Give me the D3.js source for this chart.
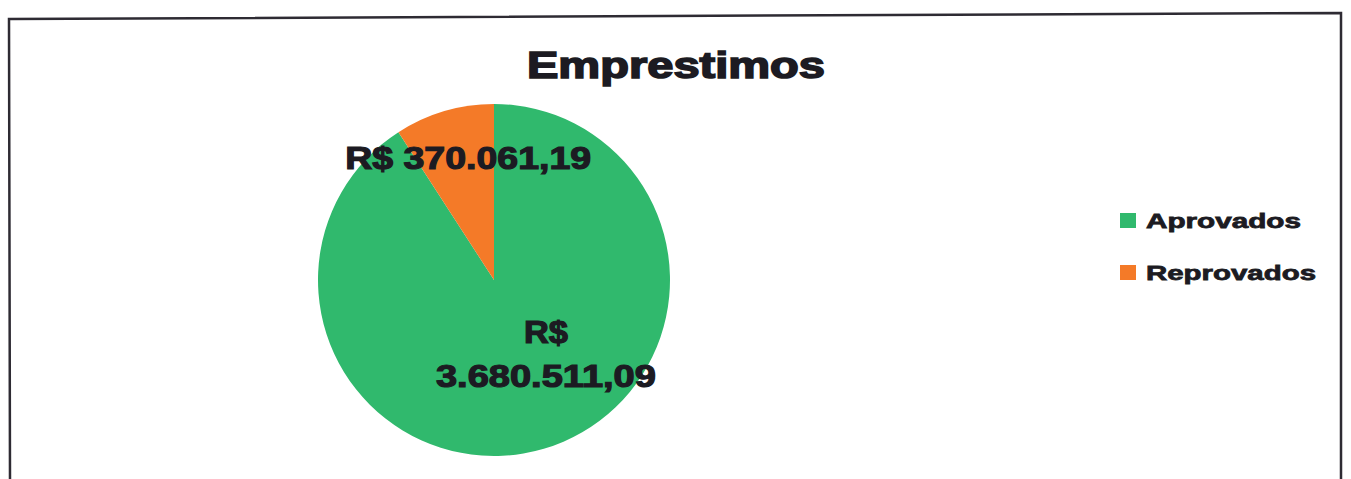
<!DOCTYPE html>
<html>
<head>
<meta charset="utf-8">
<script src="https://cdn.jsdelivr.net/npm/d3@7"></script>
<style>
  html, body { margin: 0; padding: 0; background: #ffffff; }
  svg { display: block; }
  text { font-family: "Liberation Sans", Arial, sans-serif; font-weight: bold; fill: #1c1b22; stroke: #1c1b22; paint-order: stroke; }
</style>
</head>
<body>
<svg id="chart" width="1351" height="479"></svg>
<script>
const title = "Emprestimos";
const categories = ["Aprovados", "Reprovados"];
const values = [3680511.09, 370061.19];
const labelLines = [["R$", "3.680.511,09"], ["R$ 370.061,19"]];
const colors = ["#30b96d", "#f47a28"];

const svg = d3.select("#chart");

// frame
svg.append("path")
  .attr("d", "M9,19 L1341,13 L1341,482 L10,482 Z")
  .attr("fill", "none")
  .attr("stroke", "#2e2b33")
  .attr("stroke-width", 2.5);

// title
svg.append("text")
  .attr("x", 676).attr("y", 78)
  .attr("text-anchor", "middle")
  .attr("font-size", 36)
  .attr("stroke-width", 1.6)
  .attr("textLength", 298)
  .attr("lengthAdjust", "spacingAndGlyphs")
  .text(title);

const cx = 494, cy = 280, r = 176;
const pie = d3.pie().sort(null).value(d => d)(values);
const arc = d3.arc().innerRadius(0).outerRadius(r);

const g = svg.append("g").attr("transform", `translate(${cx},${cy})`);
g.selectAll("path.slice").data(pie).enter().append("path")
  .attr("class", "slice")
  .attr("d", arc)
  .attr("fill", (d, i) => colors[i]);

// labels
const labelArcs = [
  d3.arc().innerRadius(r * 0.5).outerRadius(r * 0.5),
  d3.arc().innerRadius(r * 0.72).outerRadius(r * 0.72)
];
const labelShift = [[27, -10], [10, 0]];
pie.forEach((d, i) => {
  const [x, y] = labelArcs[i].centroid(d);
  const lines = labelLines[i];
  const lh = 44;
  const y0 = y - (lines.length - 1) * lh / 2 + 11;
  lines.forEach((ln, j) => {
    g.append("text")
      .attr("x", x + labelShift[i][0])
      .attr("y", y0 + j * lh + labelShift[i][1])
      .attr("text-anchor", "middle")
      .attr("font-size", 31)
      .attr("stroke-width", 1.2)
      .attr("textLength", ln.length > 3 ? (i === 0 ? 220 : 246) : 44)
      .attr("lengthAdjust", "spacingAndGlyphs")
      .text(ln);
  });
});

// legend
const leg = svg.append("g").attr("transform", "translate(1120,213)");
categories.forEach((c, i) => {
  const row = leg.append("g").attr("transform", `translate(0,${i * 52})`);
  row.append("rect").attr("width", 16).attr("height", 15).attr("fill", colors[i]).attr("stroke", "none");
  row.append("text")
    .attr("x", 26).attr("y", 15)
    .attr("font-size", 21)
    .attr("stroke-width", 0.8)
    .attr("textLength", i === 0 ? 155 : 170)
    .attr("lengthAdjust", "spacingAndGlyphs")
    .text(c);
});
</script>
</body>
</html>
